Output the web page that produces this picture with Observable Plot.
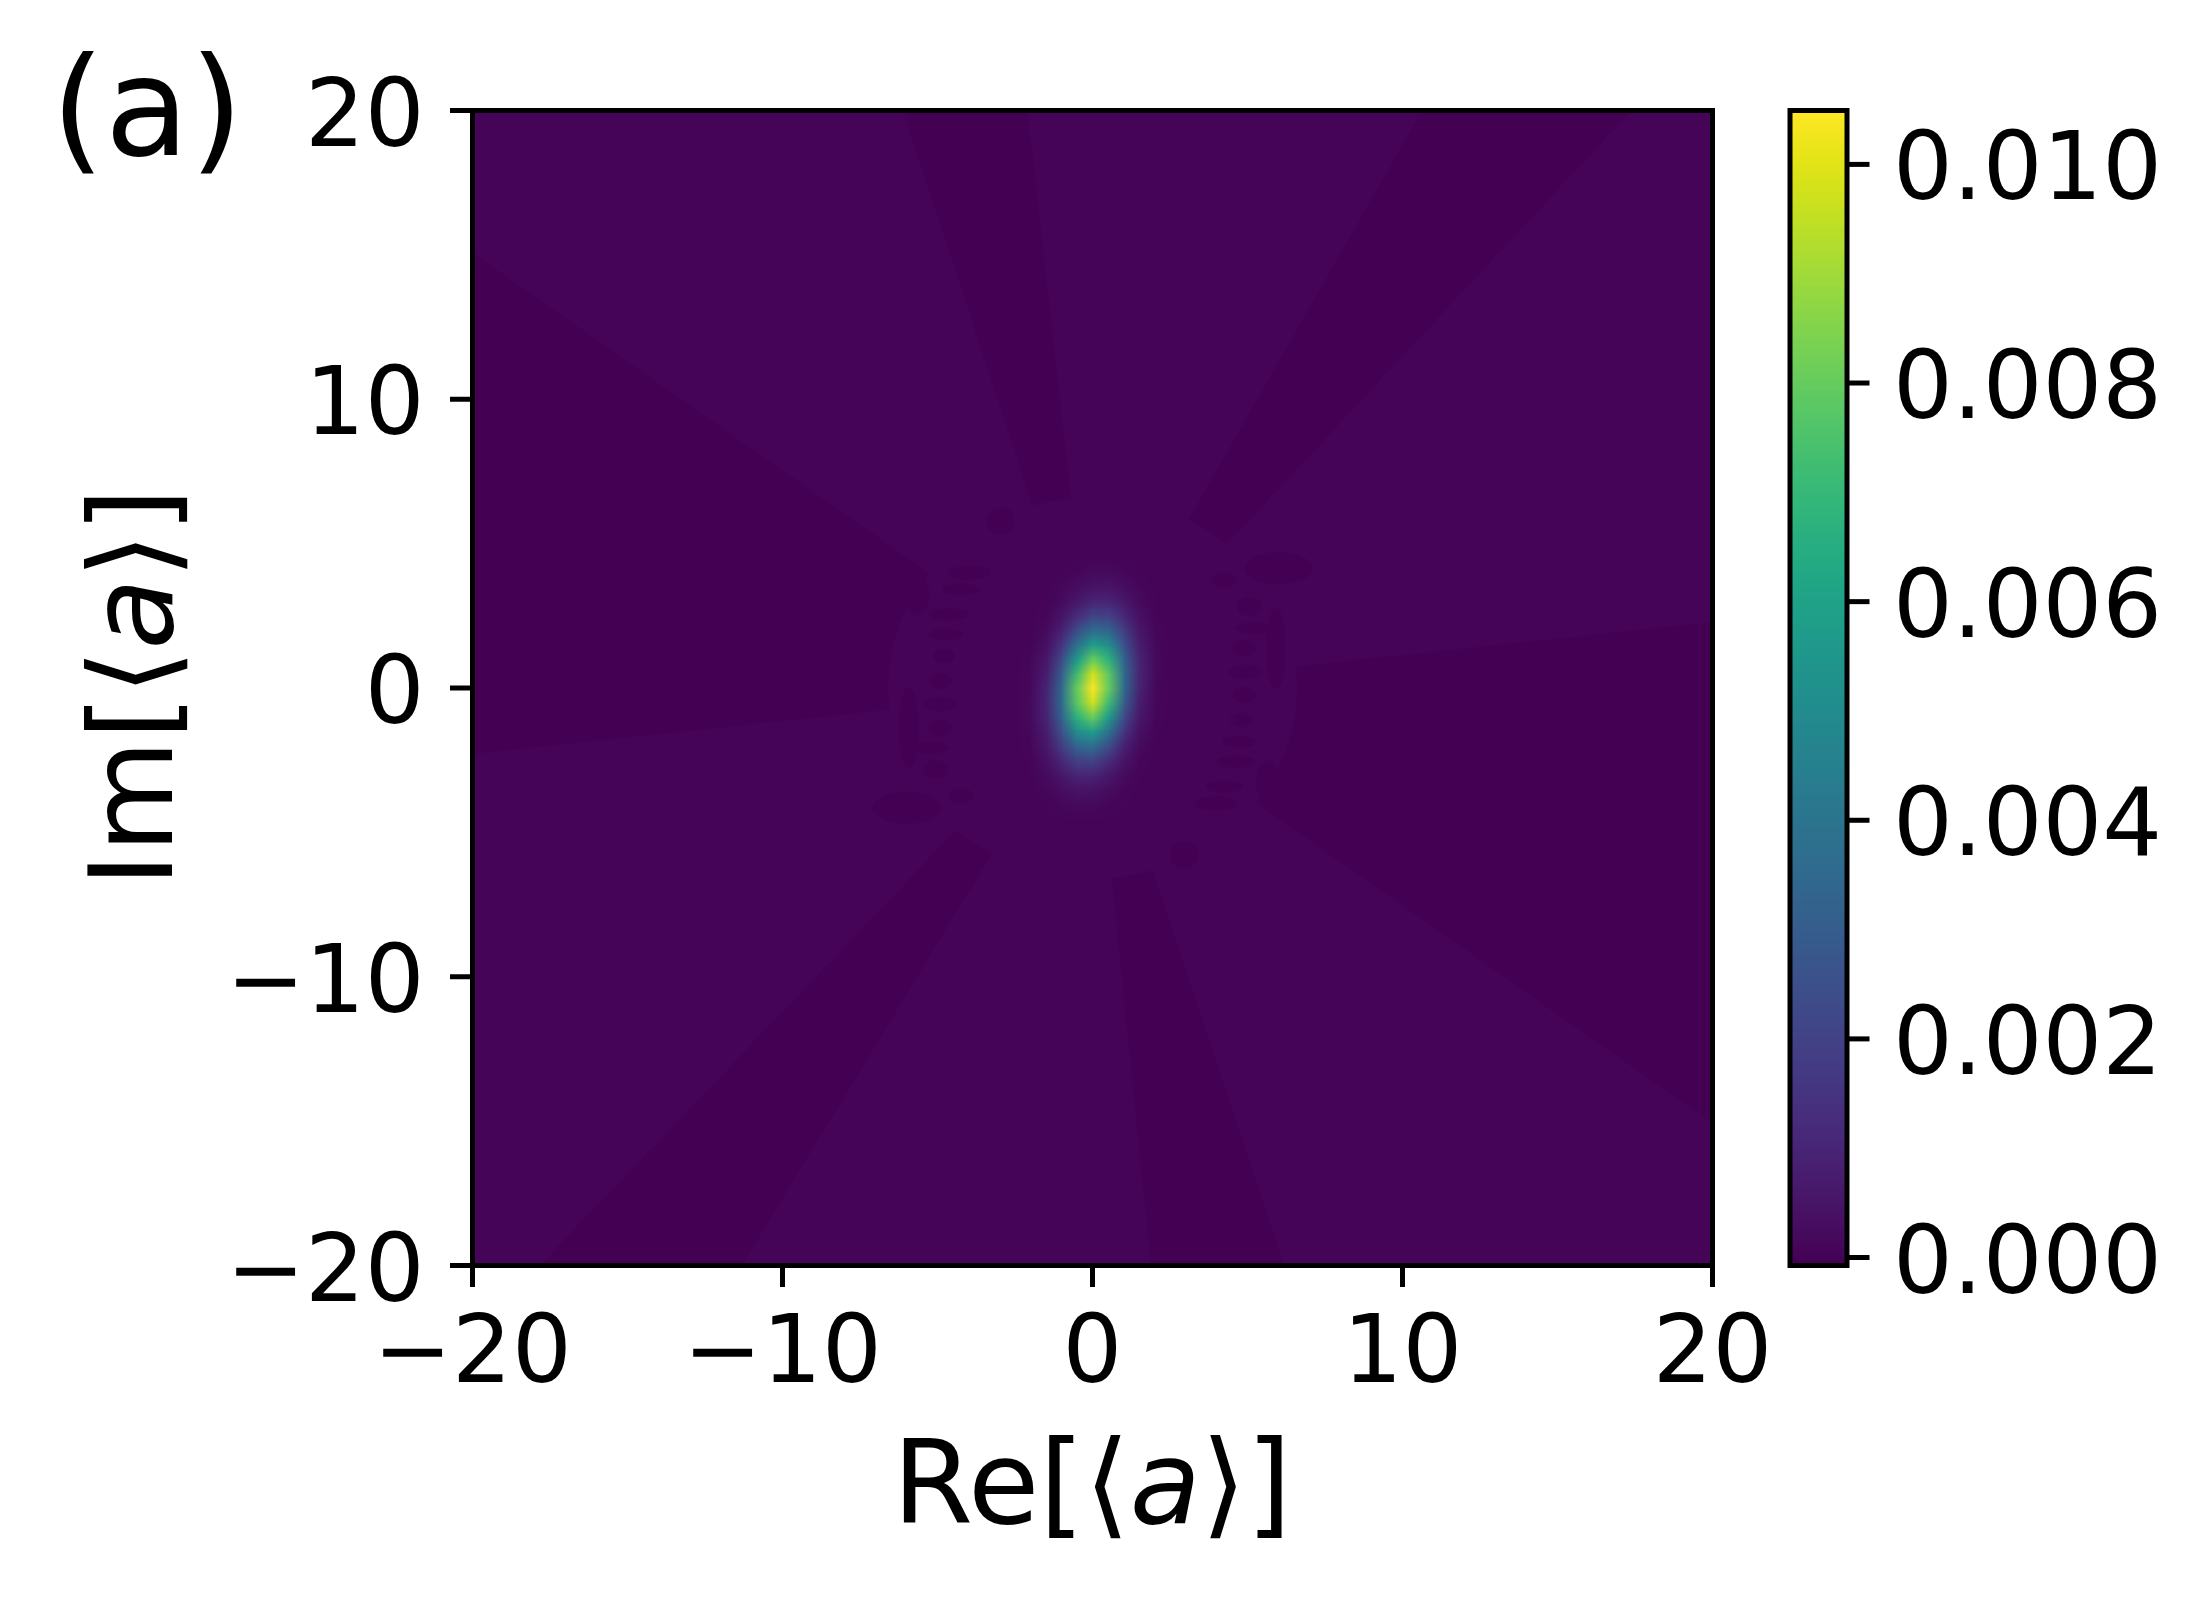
<!DOCTYPE html>
<html><head><meta charset="utf-8">
<script src="https://cdn.jsdelivr.net/npm/d3@7"></script>
<script src="https://cdn.jsdelivr.net/npm/@observablehq/plot@0.6"></script>
<style>
html,body{margin:0;padding:0;background:#fff;}
#wrap{position:relative;width:2204px;height:1598px;overflow:hidden;background:#fff;}
#wrap svg{position:absolute;left:0;top:0;}
</style></head><body><div id="wrap"></div>
<script>
// ---------- data ----------
const xTicks = [-20, -10, 0, 10, 20];
const yTicks = [-20, -10, 0, 10, 20];
const cbTicks = [0, 0.002, 0.004, 0.006, 0.008, 0.010];
const colorDomain = [-0.000073, 0.010493];
const valueUnit = 1e-5;

// central peak, sampled grid (values in units of 1e-5), rows from top (y=5) to bottom (y=-5)
const gridX = [-2.5, -2, -1.5, -1, -0.5, 0, 0.5, 1, 1.5, 2, 2.5];
const gridY = [5, 4.5, 4, 3.5, 3, 2.5, 2, 1.5, 1, 0.5, 0, -0.5, -1, -1.5, -2, -2.5, -3, -3.5, -4, -4.5, -5];
const peakRows = [
  [3, 3, 3, 3, 4, 5, 5, 4, 3, 3, 3],
  [3, 3, 3, 4, 6, 8, 9, 7, 4, 3, 3],
  [3, 3, 4, 6, 12, 19, 20, 14, 7, 4, 3],
  [3, 3, 5, 11, 27, 45, 47, 29, 12, 5, 3],
  [3, 3, 7, 23, 61, 102, 101, 59, 22, 7, 3],
  [3, 4, 12, 48, 128, 207, 196, 109, 37, 9, 4],
  [3, 5, 22, 91, 238, 370, 336, 179, 57, 13, 4],
  [3, 8, 38, 155, 392, 583, 507, 258, 78, 16, 4],
  [4, 11, 58, 233, 567, 809, 674, 328, 95, 18, 4],
  [4, 14, 79, 308, 720, 983, 784, 366, 101, 18, 4],
  [4, 17, 95, 359, 803, 1049, 803, 359, 95, 17, 4],
  [4, 18, 101, 366, 784, 983, 720, 308, 79, 14, 4],
  [4, 18, 95, 328, 674, 809, 567, 233, 58, 11, 4],
  [4, 16, 78, 258, 507, 583, 392, 155, 38, 8, 3],
  [4, 13, 57, 179, 336, 370, 238, 91, 22, 5, 3],
  [4, 9, 37, 109, 196, 207, 128, 48, 12, 4, 3],
  [3, 7, 22, 59, 101, 102, 61, 23, 7, 3, 3],
  [3, 5, 12, 29, 47, 45, 27, 11, 5, 3, 3],
  [3, 4, 7, 14, 20, 19, 12, 6, 4, 3, 3],
  [3, 3, 4, 7, 9, 8, 6, 4, 3, 3, 3],
  [3, 3, 3, 4, 5, 5, 4, 3, 3, 3, 3]
];

// background levels (units of 1e-5)
const bgLight = 3;
const bgDark = -5;
const fringeValue = -7;
// darker angular sectors (degrees, counter-clockwise from +Re axis)
const darkStart = [96, 49, -37, -84.6, -131.7, 143];
const darkEnd   = [107, 62, 6.5, -72.8, -119.5, 186.5];
const innerRadius = 6.6;
// dark fringe spots near the centre (ellipses)
const fringeX  = [-3.98, -4.25, -4.63, -4.73, -4.79, -4.90, -4.95, -4.90, -5.22, -5.06, -4.25, -6.00, -2.96, -5.92, -5.65,
                   3.98, 4.25, 4.63, 4.73, 4.79, 4.90, 4.95, 4.90, 5.22, 5.06, 4.25, 6.00, 2.96, 5.92, 5.65];
const fringeY  = [3.99, 3.41, 2.55, 1.86, 1.11, 0.24, -0.56, -1.37, -2.07, -2.82, -3.74, -4.15, 5.78, -1.37, 3.24,
                  -3.99, -3.41, -2.55, -1.86, -1.11, -0.24, 0.56, 1.37, 2.07, 2.82, 3.74, 4.15, -5.78, 1.37, -3.24];
const fringeRx = [0.70, 0.60, 0.65, 0.55, 0.35, 0.35, 0.55, 0.35, 0.60, 0.40, 0.40, 1.10, 0.45, 0.32, 0.38,
                  0.70, 0.60, 0.65, 0.55, 0.35, 0.35, 0.55, 0.35, 0.60, 0.40, 0.40, 1.10, 0.45, 0.32, 0.38];
const fringeRy = [0.24, 0.20, 0.20, 0.20, 0.25, 0.28, 0.24, 0.28, 0.20, 0.32, 0.26, 0.55, 0.48, 1.40, 0.72,
                  0.24, 0.20, 0.20, 0.20, 0.25, 0.28, 0.24, 0.28, 0.20, 0.32, 0.26, 0.55, 0.48, 1.40, 0.72];

// ---------- layout ----------
const W = 2204, H = 1598;
const mL = 472, mR = 492, mT = 110, mB = 333;
const cbLeft = 1789.5, cbRight = 1846.5;
const FONT = "DejaVu Sans";
const tickFont = 94, labelFont = 116, panelFont = 138;
const tickLen = 22;

const minusFmt = (d) => (d < 0 ? "\u2212" + (-d) : String(d));
const blank = () => "";
const colorScale = {type: "linear", scheme: "viridis", domain: colorDomain, clamp: true};

function inDarkSector(deg) {
  for (let i = 0; i < darkStart.length; i++) {
    for (const a of [deg, deg + 360, deg - 360]) {
      if (a >= darkStart[i] && a <= darkEnd[i]) return true;
    }
  }
  return false;
}
function bgFill(x, y) {
  for (let i = 0; i < fringeX.length; i++) {
    const u = (x - fringeX[i]) / fringeRx[i], v = (y - fringeY[i]) / fringeRy[i];
    if (u * u + v * v <= 1) return fringeValue * valueUnit;
  }
  if (Math.hypot(x, y) < innerRadius) return bgLight * valueUnit;
  const deg = Math.atan2(y, x) * 180 / Math.PI;
  return (inDarkSector(deg) ? bgDark : bgLight) * valueUnit;
}

const stepX = gridX[1] - gridX[0];
const stepY = gridY[0] - gridY[1];

const main = Plot.plot({
  width: W, height: H,
  marginLeft: mL, marginRight: mR, marginTop: mT, marginBottom: mB,
  style: {fontFamily: FONT, fontSize: tickFont + "px", background: "#fff", color: "#000"},
  x: {domain: [-20, 20], label: null},
  y: {domain: [-20, 20], label: null},
  color: colorScale,
  marks: [
    Plot.raster({x1: -20, x2: 20, y1: -20, y2: 20, fill: bgFill}),
    Plot.raster(peakRows.flat(), {
      width: gridX.length, height: gridY.length,
      x1: gridX[0] - stepX / 2, x2: gridX[gridX.length - 1] + stepX / 2,
      y1: gridY[0] + stepY / 2, y2: gridY[gridY.length - 1] - stepY / 2,
      fill: (d) => d * valueUnit
    }),
    Plot.frame({stroke: "#000", strokeWidth: 5}),
    Plot.axisX({ticks: xTicks, tickSize: tickLen, tickPadding: 28, tickFormat: minusFmt, strokeWidth: 5, label: null}),
    Plot.axisY({ticks: yTicks, tickSize: tickLen, tickFormat: blank, strokeWidth: 5, label: null}),
    Plot.axisY({ticks: yTicks, tickSize: 0, tickPadding: tickLen + 26, tickFormat: minusFmt, label: null, dy: 5})
  ]
});

const cb = Plot.plot({
  width: W, height: H,
  marginLeft: cbLeft, marginRight: W - cbRight, marginTop: mT, marginBottom: mB,
  style: {fontFamily: FONT, fontSize: tickFont + "px", background: "transparent", color: "#000"},
  x: {domain: [0, 1], axis: null},
  y: {domain: colorDomain, label: null},
  color: colorScale,
  marks: [
    Plot.raster({x1: 0, x2: 1, y1: colorDomain[0], y2: colorDomain[1], fill: (x, y) => y}),
    Plot.frame({stroke: "#000", strokeWidth: 5}),
    Plot.axisY({anchor: "right", ticks: cbTicks, tickSize: tickLen, tickFormat: blank, strokeWidth: 5, label: null}),
    Plot.axisY({anchor: "right", ticks: cbTicks, tickSize: 0, tickPadding: tickLen + 24, tickFormat: d3.format(".3f"), label: null, dy: 5})
  ]
});

const wrap = document.getElementById("wrap");
wrap.appendChild(main);
wrap.appendChild(cb);

// axis titles and panel label
const svg = d3.select(main);
const frameCx = mL + (W - mL - mR) / 2;
const frameCy = mT + (H - mT - mB) / 2;
function mathLabel(sel, prefix) {
  sel.append("tspan").text(prefix + "[\u27E8");
  sel.append("tspan").attr("font-style", "italic").text("a");
  sel.append("tspan").text("\u27E9]");
}
const xl = svg.append("text")
  .attr("x", frameCx).attr("y", H - mB + 258)
  .attr("text-anchor", "middle").attr("font-family", FONT).attr("font-size", labelFont).attr("fill", "#000");
mathLabel(xl, "Re");
const yl = svg.append("text")
  .attr("transform", `translate(${mL - 300},${frameCy}) rotate(-90)`)
  .attr("text-anchor", "middle").attr("font-family", FONT).attr("font-size", labelFont).attr("fill", "#000");
mathLabel(yl, "Im");
svg.append("text")
  .attr("x", 51).attr("y", 155)
  .attr("text-anchor", "start")
  .attr("font-family", FONT).attr("font-size", panelFont).attr("fill", "#000")
  .text("(a)");
</script></body></html>
